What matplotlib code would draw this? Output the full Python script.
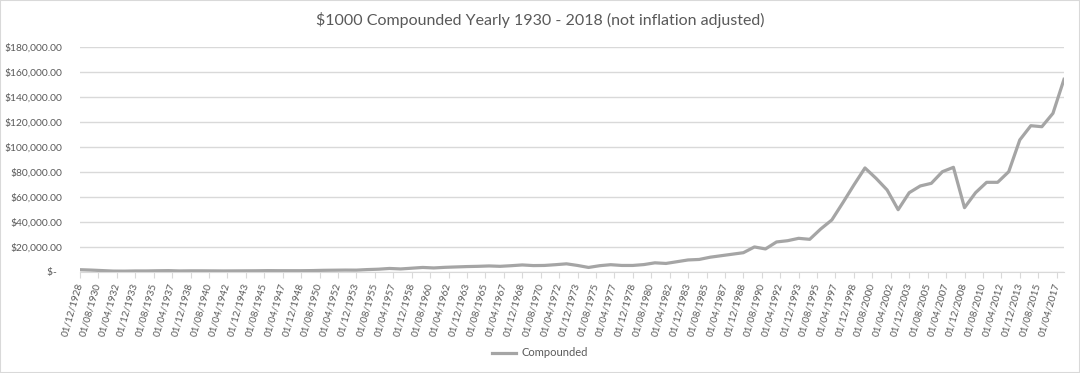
import matplotlib
matplotlib.use("Agg")
import matplotlib.pyplot as plt
import matplotlib.dates as mdates
from matplotlib.patches import Rectangle
from matplotlib.ticker import FuncFormatter
import pandas as pd

# yearly value of $1000, first point Dec 1928
years = list(range(1928, 2018))
values = [
    1600, 1300, 900, 500, 450, 600, 600, 750, 850, 600,
    700, 700, 650, 600, 650, 700, 750, 850, 800, 800,
    800, 900, 1100, 1200, 1300, 1250, 1700, 2000, 2600, 2200,
    2800, 3400, 3000, 3500, 3800, 4100, 4300, 4600, 4300, 4800,
    5400, 4900, 5000, 5600, 6300, 5000, 3400, 4800, 5600, 5000,
    5000, 5700, 7100, 6600, 8000, 9400, 9800, 11600, 12800, 14000,
    15200, 19800, 18200, 23800, 24800, 26700, 25900, 34200, 41400, 55200,
    69400, 83000, 74700, 65400, 49600, 63200, 68600, 70700, 80000, 83500,
    51200, 63200, 71500, 71500, 80000, 105400, 116800, 116000, 126700, 153900,
]
series_name = "Compounded"
title = "$1000 Compounded Yearly 1930 - 2018 (not inflation adjusted)"

dates = pd.to_datetime([f"{y}-12-01" for y in years])
# axis labels every 20 months, as in the spreadsheet
tick_dates = pd.date_range("1928-12-01", "2018-01-01", freq="20MS")

plt.rcParams["font.family"] = ["Lato", "DejaVu Sans"]
text_col = "#595959"
grid_col = "#d9d9d9"

fig = plt.figure(figsize=(10.8, 3.73), dpi=100)
ax = fig.add_axes([80 / 1080, 1 - 271.7 / 373, 984 / 1080, (271.7 - 46.7) / 373])

ax.plot(dates, values, color="#a5a5a5", lw=2.3, solid_joinstyle="round", label=series_name)

ax.set_xlim(dates[0], dates[-1])
ax.set_ylim(0, 180000)
ax.set_yticks(range(0, 180001, 20000))
ax.yaxis.set_major_formatter(FuncFormatter(lambda v, p: "$-  " if v == 0 else f"${v:,.2f}"))
ax.set_xticks(tick_dates)
ax.xaxis.set_major_formatter(mdates.DateFormatter("%d/%m/%Y"))

ax.grid(axis="y", color=grid_col, lw=1)
ax.set_axisbelow(True)
for s in ["top", "right", "left"]:
    ax.spines[s].set_visible(False)
ax.spines["bottom"].set_color(grid_col)
ax.tick_params(axis="y", length=0, pad=13, labelsize=7.4, labelcolor=text_col)
ax.tick_params(axis="x", length=4, color=grid_col, direction="out", pad=4,
               labelsize=7.2, labelcolor=text_col)
for lbl in ax.get_xticklabels():
    lbl.set_rotation(74)
    lbl.set_ha("right")
    lbl.set_va("center")
    lbl.set_rotation_mode("anchor")

fig.text(0.5, 1 - 20 / 373, title, ha="center", va="center", fontsize=11.5, color=text_col)
fig.legend(loc="center", bbox_to_anchor=(0.5, 1 - 353 / 373), frameon=False,
           fontsize=8, labelcolor=text_col, handlelength=2.2, handletextpad=0.5)

fig.patches.append(Rectangle((0, 0), 1, 1, transform=fig.transFigure, fill=False,
                             edgecolor=grid_col, lw=1.5))

fig.savefig("out.png", dpi=100)
